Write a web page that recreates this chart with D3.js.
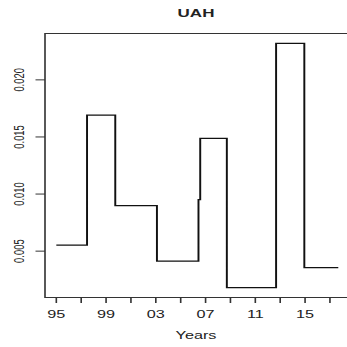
<!DOCTYPE html>
<html>
<head>
<meta charset="utf-8">
<script src="https://cdn.jsdelivr.net/npm/d3@7.9.0/dist/d3.min.js"></script>
<style>
  body { margin: 0; background: #fff; }
  svg { display: block; }
  text { font-family: "Liberation Sans", Arial, sans-serif; fill: #222; }
</style>
</head>
<body>
<svg id="chart" width="347" height="347"></svg>
<script>
// step points (R type = "s")
const years = [1995, 1997.47, 1999.74, 2003.09, 2006.43, 2006.57, 2008.71, 2012.67, 2014.94, 2017.67];
const values = [0.00552, 0.01692, 0.00899, 0.00413, 0.00952, 0.01487, 0.0018, 0.0232, 0.00355, 0.00355];
const xTicks = d3.range(1995, 2018, 2);
const xLabelYears = [1995, 1999, 2003, 2007, 2011, 2015];
const yTicks = [0.005, 0.010, 0.015, 0.020];

// the reference looks stretched sideways, so draw in a squeezed frame and widen it
const k = 1.62;

const svg = d3.select('#chart');
const g = svg.append('g').attr('transform', `scale(${k},1)`);

const x = d3.scaleLinear().domain([1994.09, 2018.58]).range([45 / k, 349.6 / k]);
const y = d3.scaleLinear().domain([0.00094, 0.02406]).range([297.5, 33.5]);

const data = years.map((yr, i) => ({ yr, v: values[i] }));

// frame
g.append('rect')
  .attr('x', x.range()[0]).attr('y', y.range()[1])
  .attr('width', x.range()[1] - x.range()[0])
  .attr('height', y.range()[0] - y.range()[1])
  .attr('fill', 'none')
  .attr('stroke', '#333')
  .attr('stroke-width', 1);

// step line
const line = d3.line()
  .x(d => x(d.yr))
  .y(d => y(d.v))
  .curve(d3.curveStepAfter);

g.append('path')
  .datum(data)
  .attr('d', line)
  .attr('fill', 'none')
  .attr('stroke', '#111')
  .attr('stroke-width', 1.2);

// x axis
g.selectAll('.xtick')
  .data(xTicks)
  .join('line')
  .attr('class', 'xtick')
  .attr('x1', d => x(d)).attr('x2', d => x(d))
  .attr('y1', 297.5).attr('y2', 303)
  .attr('stroke', '#333')
  .attr('stroke-width', 1);

g.selectAll('.xlab')
  .data(xLabelYears)
  .join('text')
  .attr('class', 'xlab')
  .attr('x', d => x(d))
  .attr('y', 318.3)
  .attr('text-anchor', 'middle')
  .attr('font-size', 10)
  .text(d => String(d % 100).padStart(2, '0'));

// y axis
g.selectAll('.ytick')
  .data(yTicks)
  .join('line')
  .attr('class', 'ytick')
  .attr('x1', 35.5 / k).attr('x2', 45 / k)
  .attr('y1', d => y(d)).attr('y2', d => y(d))
  .attr('stroke', '#333')
  .attr('stroke-width', 1);

g.selectAll('.ylab')
  .data(yTicks)
  .join('text')
  .attr('class', 'ylab')
  .attr('transform', d => `translate(${24 / k},${y(d)}) rotate(-90)`)
  .attr('text-anchor', 'middle')
  .attr('font-size', 9.4)
  .text(d => d3.format('.3f')(d));

// title and axis title
g.append('text')
  .attr('x', 196 / k)
  .attr('y', 16.7)
  .attr('text-anchor', 'middle')
  .attr('font-size', 10.5)
  .attr('font-weight', 'bold')
  .text('UAH');

g.append('text')
  .attr('x', 196 / k)
  .attr('y', 339.3)
  .attr('text-anchor', 'middle')
  .attr('font-size', 10)
  .text('Years');
</script>
</body>
</html>
